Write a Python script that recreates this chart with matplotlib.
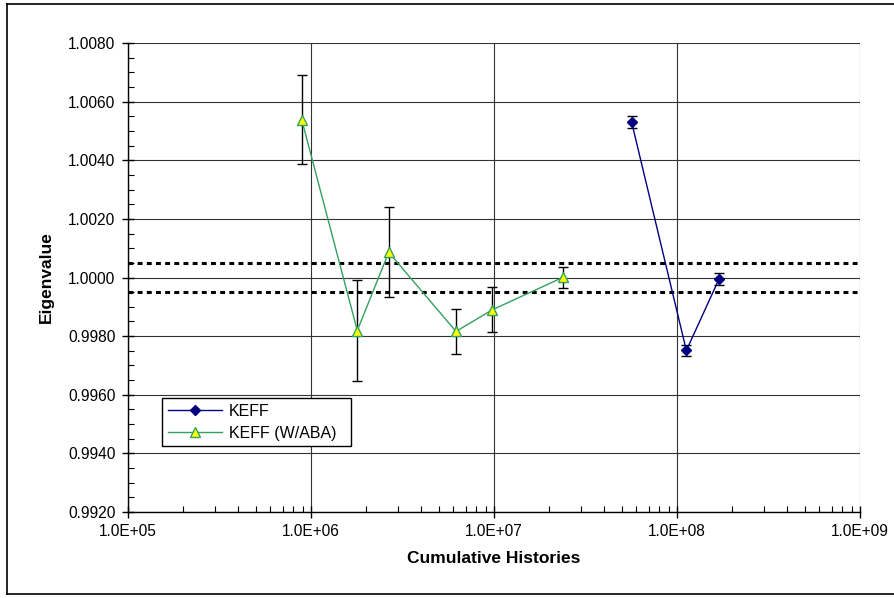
import math

import matplotlib
matplotlib.use('Agg')
from matplotlib import pyplot as plt
from matplotlib import ticker
from matplotlib.lines import Line2D

plt.rcParams['font.family'] = ['Liberation Sans', 'DejaVu Sans']

# KEFF series
keff_x = [5.65e7, 1.125e8, 1.70e8]
keff_y = [1.00530, 0.99751, 0.99996]
keff_err = [0.00020, 0.00018, 0.00020]

# KEFF (W/ABA) series
aba_x = [8.9e5, 1.79e6, 2.66e6, 6.2e6, 9.8e6, 2.39e7]
aba_y = [1.00538, 0.99819, 1.00086, 0.99816, 0.99890, 1.00001]
aba_err = [0.00152, 0.00171, 0.00153, 0.00076, 0.00077, 0.00036]

band = [1.0005, 0.9995]
y_ticks = [0.9920, 0.9940, 0.9960, 0.9980, 1.0000, 1.0020, 1.0040, 1.0060, 1.0080]
x_ticks = [1e5, 1e6, 1e7, 1e8, 1e9]

fig = plt.figure(figsize=(8.94, 5.98), dpi=100)
ax = fig.add_axes([128 / 894, 1 - 512 / 598, 732 / 894, 469 / 598])

# outer frame
for xs, ys in [([7 / 894, 7 / 894], [4 / 598, 1 - 4 / 598]),
               ([7 / 894, 1], [1 - 4 / 598, 1 - 4 / 598]),
               ([7 / 894, 1], [4 / 598, 4 / 598])]:
    fig.add_artist(Line2D(xs, ys, color='black', lw=1.2, transform=fig.transFigure))

ax.set_xscale('log')
ax.set_xlim(1e5, 1e9)
ax.set_ylim(0.9920, 1.0080)

ax.grid(True, which='major', color='#333333', lw=0.8)
ax.set_axisbelow(True)

for b in band:
    ax.axhline(b, color='black', lw=2.2, ls=(0, (1.6, 1.4)), zorder=2)

ax.errorbar(aba_x, aba_y, yerr=aba_err, fmt='none', ecolor='black',
            elinewidth=1, capsize=3.5, capthick=1, zorder=3)
ax.errorbar(keff_x, keff_y, yerr=keff_err, fmt='none', ecolor='black',
            elinewidth=1, capsize=3.5, capthick=1, zorder=3)

ax.plot(keff_x, keff_y, color='#000080', lw=1, marker='D', markersize=5,
        markerfacecolor='#000080', markeredgecolor='#000080', label='KEFF', zorder=4)
ax.plot(aba_x, aba_y, color='#33A060', lw=1, marker='^', markersize=6.5,
        markerfacecolor='#FFFF00', markeredgecolor='#33A060',
        label='KEFF (W/ABA)', zorder=4)

ax.set_yticks(y_ticks)
ax.yaxis.set_major_formatter(ticker.FormatStrFormatter('%.4f'))
ax.yaxis.set_minor_locator(ticker.MultipleLocator(0.0005))
ax.set_xticks(x_ticks)
ax.xaxis.set_major_formatter(ticker.FuncFormatter(
    lambda v, p: '1.0E+%02d' % round(math.log10(v))))
ax.xaxis.set_minor_locator(ticker.LogLocator(base=10, subs=range(2, 10)))
ax.xaxis.set_minor_formatter(ticker.NullFormatter())

ax.tick_params(axis='both', which='major', direction='inout', length=8,
               width=1, labelsize=11.2, color='black')
ax.tick_params(axis='y', which='major', pad=5)
ax.tick_params(axis='x', which='major', pad=5)
ax.tick_params(axis='both', which='minor', direction='in', length=4, width=0.8)
ax.tick_params(top=False, right=False, which='both')

for side in ['top', 'right']:
    ax.spines[side].set_visible(False)
for side in ['left', 'bottom']:
    ax.spines[side].set_linewidth(1)

ax.set_xlabel('Cumulative Histories', fontsize=12.5, fontweight='bold', labelpad=8)
ax.set_ylabel('Eigenvalue', fontsize=12.5, fontweight='bold', labelpad=10)

leg = ax.legend(loc='lower left', bbox_to_anchor=(0.047, 0.14, 0.258, 0.1),
                mode='expand', borderaxespad=0,
                fancybox=False, edgecolor='black', fontsize=11.5, framealpha=1,
                handlelength=3.4, handletextpad=0.4, borderpad=0.35,
                labelspacing=0.45)
leg.get_frame().set_linewidth(1)

fig.savefig('out.png', dpi=100)
